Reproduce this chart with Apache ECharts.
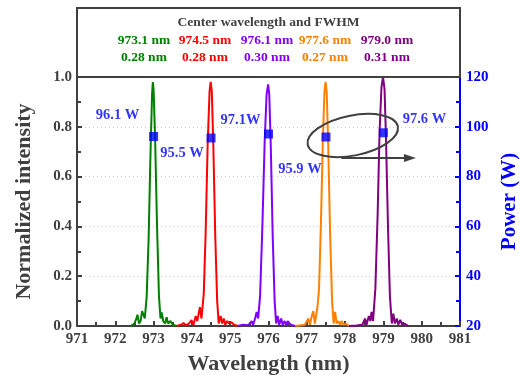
<!DOCTYPE html>
<html><head><meta charset="utf-8">
<script src="https://cdn.jsdelivr.net/npm/echarts@6/dist/echarts.min.js"></script>
<style>html,body{margin:0;padding:0;background:#fff}#c{width:520px;height:377px}</style>
</head><body><div id="c"></div>
<script>
// ---- data ----
const xTicks = [971,972,973,974,975,976,977,978,979,980,981];
const seriesNames = ['973.1 nm','974.5 nm','976.1 nm','977.6 nm','979.0 nm'];
const fwhmLabels = ['0.28 nm','0.28 nm','0.30 nm','0.27 nm','0.31 nm'];
const colors = ['#008000','#ff0000','#8000ff','#ff8000','#800080'];
const specGreen = [[972.40,0],[972.50,0.01],[972.55,0.03],[972.58,0.045],[972.62,0.01],[972.66,0.02],[972.70,0.06],[972.73,0.065],[972.77,0.03],[972.82,0.12],[972.87,0.35],[972.92,0.70],[972.96,0.93],[972.98,0.98],[973.00,0.95],[973.04,0.75],[973.09,0.40],[973.14,0.12],[973.18,0.03],[973.21,0.055],[973.25,0.02],[973.30,0.01],[973.34,0.035],[973.38,0.01],[973.44,0.02],[973.50,0.005],[973.60,0]];
const specRed = [[973.60,0],[973.72,0.005],[973.78,0.012],[973.84,0.003],[973.92,0.01],[973.99,0.024],[974.04,0.005],[974.10,0.04],[974.14,0.02],[974.21,0.076],[974.25,0.03],[974.31,0.13],[974.36,0.38],[974.41,0.72],[974.46,0.94],[974.49,0.98],[974.52,0.94],[974.56,0.72],[974.61,0.36],[974.66,0.10],[974.70,0.01],[974.75,0.04],[974.79,0.01],[974.83,0.03],[974.87,0.005],[974.92,0.02],[974.97,0.01],[975.03,0.015],[975.10,0.005],[975.20,0]];
const specViolet = [[975.20,0],[975.33,0.005],[975.45,0.003],[975.52,0.01],[975.56,0.02],[975.60,0.005],[975.65,0.03],[975.69,0.056],[975.73,0.03],[975.78,0.12],[975.84,0.40],[975.90,0.74],[975.95,0.93],[975.99,0.97],[976.02,0.93],[976.06,0.72],[976.11,0.36],[976.16,0.10],[976.20,0.01],[976.24,0.04],[976.28,0.005],[976.33,0.03],[976.37,0.005],[976.42,0.02],[976.46,0.005],[976.50,0.02],[976.58,0.005],[976.70,0]];
const specOrange = [[976.70,0],[976.85,0.003],[976.95,0.005],[977.00,0.003],[977.04,0.03],[977.08,0.005],[977.13,0.04],[977.17,0.06],[977.21,0.01],[977.25,0.05],[977.28,0.078],[977.32,0.15],[977.37,0.42],[977.42,0.75],[977.46,0.94],[977.49,0.98],[977.52,0.94],[977.56,0.72],[977.61,0.36],[977.66,0.10],[977.70,0.01],[977.74,0.057],[977.78,0.01],[977.83,0.02],[977.87,0.005],[977.91,0.02],[977.96,0.005],[978.02,0.01],[978.10,0]];
const specPurple = [[978.10,0],[978.30,0.002],[978.45,0.005],[978.52,0.03],[978.56,0.005],[978.62,0.04],[978.66,0.02],[978.69,0.057],[978.73,0.02],[978.79,0.15],[978.85,0.45],[978.90,0.78],[978.95,0.96],[978.99,1.0],[979.03,0.95],[979.07,0.74],[979.12,0.40],[979.17,0.12],[979.22,0.01],[979.26,0.05],[979.30,0.01],[979.35,0.03],[979.39,0.005],[979.44,0.025],[979.49,0.005],[979.55,0.01],[979.65,0]];
const powerX = [973.0, 974.5, 976.0, 977.5, 979.0];
const powerW = [96.1, 95.5, 97.1, 95.9, 97.6];
const powerLabels = ['96.1 W','95.5 W','97.1W','95.9 W','97.6 W'];
const labelOffsets = [[-36,-21],[-29,15],[-28,-14],[-26,32],[41,-14]];

const F = 'Liberation Serif, Times New Roman, serif';
const gray = '#404040';
const blue = '#0000ff';
const chart = echarts.init(document.getElementById('c'));
const specs = [specGreen, specRed, specViolet, specOrange, specPurple];

const series = specs.map((d,i)=>({
  type:'line', name:seriesNames[i], data:d, showSymbol:false, symbol:'none',
  lineStyle:{color:colors[i], width:2}, itemStyle:{color:colors[i]}, z:2
}));
series.push({
  type:'scatter', yAxisIndex:1, symbol:'rect', symbolSize:9, z:5,
  itemStyle:{color:blue},
  data: powerX.map((x,i)=>({value:[x,powerW[i]], label:{show:true, formatter:powerLabels[i], offset:labelOffsets[i]}})),
  label:{show:true, position:'inside', color:blue, fontFamily:F, fontWeight:'bold', fontSize:14.5}
});

const grid = {left:77, right:60, top:77, bottom:51, containLabel:false, outerBoundsMode:'none'};
const box = {left:77, top:8, w:383, h:69};
const colX = [144,205,267,325,387];

const option = {
  animation:false,
  grid: grid,
  xAxis:{type:'value', min:971, max:981, interval:1,
    axisLine:{lineStyle:{color:gray,width:2}}, axisTick:{inside:true,length:5,lineStyle:{color:gray,width:2}},
    minorTick:{show:true,splitNumber:2,length:4,lineStyle:{color:gray,width:2}},
    splitLine:{show:false},
    axisLabel:{color:gray,fontFamily:F,fontWeight:'bold',fontSize:15,margin:6, formatter:v=>String(v)},
    name:'Wavelength (nm)', nameLocation:'middle', nameGap:27,
    nameTextStyle:{color:gray,fontFamily:F,fontWeight:'bold',fontSize:22}},
  yAxis:[
    {type:'value', min:0, max:1, interval:0.2, position:'left',
     axisLine:{show:true,lineStyle:{color:gray,width:2}}, axisTick:{inside:true,length:5,lineStyle:{color:gray,width:2}},
     minorTick:{show:true,splitNumber:2,length:4,lineStyle:{color:gray,width:2}},
     splitLine:{show:true,lineStyle:{color:'#cccccc',type:[1,3],width:1}},
     axisLabel:{color:gray,fontFamily:F,fontWeight:'bold',fontSize:15,margin:5,formatter:v=>v.toFixed(1)},
     name:'Normalized intensity', nameLocation:'middle', nameGap:42, nameRotate:90,
     nameTextStyle:{color:gray,fontFamily:F,fontWeight:'bold',fontSize:22}},
    {type:'value', min:20, max:120, interval:20, position:'right',
     axisLine:{show:true,lineStyle:{color:blue,width:2}}, axisTick:{inside:true,length:5,lineStyle:{color:blue,width:2}},
     minorTick:{show:true,splitNumber:2,length:4,lineStyle:{color:blue,width:2}},
     splitLine:{show:false},
     axisLabel:{color:blue,fontFamily:F,fontWeight:'bold',fontSize:15,margin:6},
     name:'Power (W)', nameLocation:'middle', nameGap:40, nameRotate:90,
     nameTextStyle:{color:blue,fontFamily:F,fontWeight:'bold',fontSize:21,verticalAlign:'bottom'}}
  ],
  series: series
};
chart.setOption(option);

// annotation box, texts, ellipse and arrow
const g = [];
g.push({type:'rect', shape:{x:box.left, y:box.top, width:box.w, height:box.h}, style:{fill:'none', stroke:gray, lineWidth:2}, z:10});
g.push({type:'text', x:box.left+box.w/2, y:23, style:{text:'Center wavelength and FWHM', fill:gray, font:'bold 13.5px '+F, textAlign:'center', textVerticalAlign:'middle'}, z:10});
seriesNames.forEach((s,i)=>{
  g.push({type:'text', x:colX[i], y:41, style:{text:s, fill:colors[i], font:'bold 13.5px '+F, textAlign:'center', textVerticalAlign:'middle'}, z:10});
  g.push({type:'text', x:colX[i], y:58, style:{text:fwhmLabels[i], fill:colors[i], font:'bold 13.5px '+F, textAlign:'center', textVerticalAlign:'middle'}, z:10});
});
const c = chart.convertToPixel({gridIndex:0}, [978.2, 0.765]);
g.push({type:'ellipse', x:c[0], y:c[1], rotation:0.2, shape:{cx:0, cy:0, rx:46, ry:20}, style:{fill:'none', stroke:gray, lineWidth:2}, z:10});
const a0 = chart.convertToPixel({gridIndex:0}, [977.9, 0.675]);
const a1 = chart.convertToPixel({gridIndex:0}, [979.85, 0.675]);
g.push({type:'line', shape:{x1:a0[0], y1:a0[1], x2:a1[0]-10, y2:a1[1]}, style:{stroke:gray, lineWidth:2}, z:10});
g.push({type:'polygon', shape:{points:[[a1[0],a1[1]],[a1[0]-12,a1[1]-4],[a1[0]-12,a1[1]+4]]}, style:{fill:gray}, z:10});
chart.setOption({graphic:g});
</script>
</body></html>
